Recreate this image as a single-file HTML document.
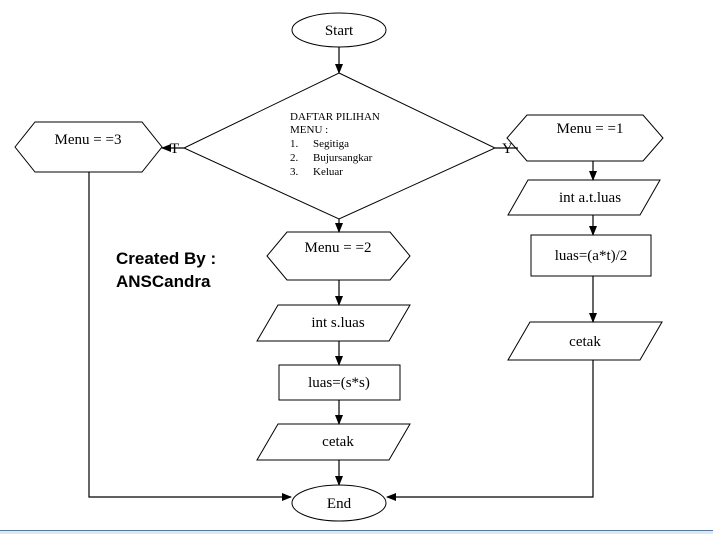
<!DOCTYPE html><html><head><style>body{margin:0;background:#fff}svg{display:block}text{font-family:"Liberation Serif",serif;font-size:15px;fill:#000}</style></head><body>
<svg width="713" height="534" viewBox="0 0 713 534">
<defs><marker id="a" markerWidth="10" markerHeight="8" refX="9" refY="4" orient="auto" markerUnits="userSpaceOnUse"><path d="M0,0L10,4L0,8z" fill="#000"/></marker></defs>
<g fill="#fff" stroke="#000" stroke-width="1">
<ellipse cx="339" cy="30" rx="47" ry="17"/>
<polygon points="339,73 495,148 339,219 184,148"/>
<polygon points="15,147 35,122 142,122 162,147 142,172 35,172"/>
<polygon points="507,138 527,115 643,115 663,138 643,161 527,161"/>
<polygon points="267,256 287,232 390,232 410,256 390,280 287,280"/>
<polygon points="528,180 660,180 640,215 508,215"/>
<rect x="531" y="235" width="120" height="41"/>
<polygon points="530,322 662,322 640,360 508,360"/>
<polygon points="278,305 410,305 389,341 257,341"/>
<rect x="279" y="365" width="121" height="35"/>
<polygon points="278,424 410,424 389,460 257,460"/>
<ellipse cx="339" cy="503" rx="47" ry="18"/>
</g>
<g stroke="#000" fill="none" stroke-width="1.2">
<line x1="339" y1="47" x2="339" y2="73" marker-end="url(#a)"/>
<line x1="339" y1="219" x2="339" y2="232" marker-end="url(#a)"/>
<line x1="339" y1="280" x2="339" y2="305" marker-end="url(#a)"/>
<line x1="339" y1="341" x2="339" y2="365" marker-end="url(#a)"/>
<line x1="339" y1="400" x2="339" y2="424" marker-end="url(#a)"/>
<line x1="339" y1="460" x2="339" y2="485" marker-end="url(#a)"/>
<line x1="184" y1="148" x2="162" y2="148" marker-end="url(#a)"/>
<line x1="495" y1="148" x2="518" y2="148"/>
<line x1="593" y1="161" x2="593" y2="180" marker-end="url(#a)"/>
<line x1="593" y1="215" x2="593" y2="235" marker-end="url(#a)"/>
<line x1="593" y1="276" x2="593" y2="322" marker-end="url(#a)"/>
<polyline points="89,172 89,497 291,497" marker-end="url(#a)"/>
<polyline points="593,360 593,497 387,497" marker-end="url(#a)"/>
</g>
<text x="339" y="35" text-anchor="middle">Start</text>
<text x="339" y="508" text-anchor="middle">End</text>
<text x="88" y="144" text-anchor="middle">Menu = =3</text>
<text x="590" y="133" text-anchor="middle">Menu = =1</text>
<text x="338" y="252" text-anchor="middle">Menu = =2</text>
<text x="590" y="202" text-anchor="middle">int a.t.luas</text>
<text x="591" y="260" text-anchor="middle">luas=(a*t)/2</text>
<text x="585" y="346" text-anchor="middle">cetak</text>
<text x="338" y="327" text-anchor="middle">int s.luas</text>
<text x="339" y="387" text-anchor="middle">luas=(s*s)</text>
<text x="338" y="446" text-anchor="middle">cetak</text>
<text x="170" y="153">T</text>
<text x="502" y="153">Y</text>
<text x="290" y="120" style="font-size:11px">DAFTAR PILIHAN</text>
<text x="290" y="133" style="font-size:11px">MENU :</text>
<text x="290" y="147" style="font-size:11px">1.</text><text x="313" y="147" style="font-size:11px">Segitiga</text>
<text x="290" y="161" style="font-size:11px">2.</text><text x="313" y="161" style="font-size:11px">Bujursangkar</text>
<text x="290" y="175" style="font-size:11px">3.</text><text x="313" y="175" style="font-size:11px">Keluar</text>
<text x="116" y="264" style="font-family:'Liberation Sans',sans-serif;font-weight:bold;font-size:17px">Created By :</text>
<text x="116" y="287" style="font-family:'Liberation Sans',sans-serif;font-weight:bold;font-size:17px">ANSCandra</text>
<rect x="0" y="530" width="713" height="1" fill="#5a7a9a"/>
<rect x="0" y="531" width="713" height="3" fill="#dde8f3"/>
</svg></body></html>
